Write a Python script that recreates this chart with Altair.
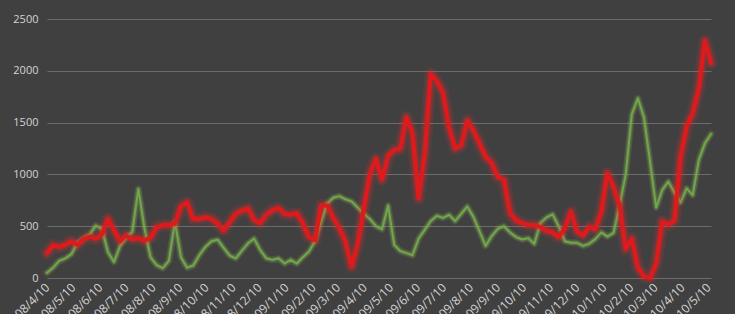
import altair as alt
import pandas as pd

start_date = "2008-04-10"

green = [50, 100, 165, 190, 230, 340, 380, 420, 505, 475,
         250, 155, 310, 390, 445, 860, 480, 200, 125, 95,
         165, 540, 200, 100, 120, 220, 300, 355, 370, 290,
         215, 190, 265, 335, 380, 270, 190, 175, 190, 140,
         175, 140, 200, 255, 355, 540, 720, 775, 790, 760,
         740, 680, 620, 570, 500, 470, 700, 320, 260, 240,
         220, 380, 465, 550, 600, 580, 610, 550, 620, 690,
         590, 450, 310, 405, 475, 500, 440, 395, 372, 385,
         330, 530, 585, 615, 500, 355, 340, 340, 310, 330,
         375, 440, 400, 435, 700, 1000, 1580, 1735, 1550, 1120,
         680, 850, 930, 825, 730, 865, 800, 1140, 1300, 1390]

red = [240, 315, 300, 320, 355, 320, 375, 400, 380, 420,
       570, 460, 355, 410, 375, 385, 360, 390, 490, 510,
       510, 525, 690, 730, 570, 570, 585, 570, 525, 460,
       540, 620, 650, 670, 560, 530, 610, 655, 675, 620,
       610, 625, 530, 395, 365, 700, 700, 580, 480, 350,
       110, 330, 670, 1000, 1150, 950, 1180, 1235, 1250, 1550,
       1400, 770, 1200, 1970, 1900, 1790, 1450, 1250, 1280, 1520,
       1420, 1300, 1170, 1110, 975, 950, 630, 555, 530, 510,
       510, 492, 455, 440, 395, 480, 640, 450, 410, 495,
       470, 640, 1010, 880, 700, 280, 380, 100, 15, 0,
       140, 545, 515, 555, 1170, 1460, 1590, 1830, 2290, 2075]

tick_labels = ["2008/4/10", "2008/5/10", "2008/6/10", "2008/7/10", "2008/8/10",
               "2008/9/10", "2008/10/10", "2008/11/10", "2008/12/10",
               "2009/1/10", "2009/2/10", "2009/3/10", "2009/4/10", "2009/5/10",
               "2009/6/10", "2009/7/10", "2009/8/10", "2009/9/10", "2009/10/10",
               "2009/11/10", "2009/12/10", "2010/1/10", "2010/2/10", "2010/3/10",
               "2010/4/10", "2010/5/10"]

y_ticks = [0, 500, 1000, 1500, 2000, 2500]

dates = pd.date_range(start_date, periods=len(green), freq="7D")
df = pd.DataFrame({
    "date": list(dates) * 2,
    "value": green + red,
    "series": ["green"] * len(green) + ["red"] * len(red),
})

tick_values = []
for lab in tick_labels:
    yy, mm, dd = [int(p) for p in lab.split("/")]
    tick_values.append(alt.DateTime(year=yy, month=mm, date=dd))

x_enc = alt.X(
    "date:T",
    scale=alt.Scale(domain=[dates[0].isoformat(), dates[-1].isoformat()]),
    axis=alt.Axis(
        values=tick_values,
        format="%Y/%-m/%-d",
        labelAngle=-45,
        labelAlign="right",
        labelBaseline="middle",
        labelColor="#d4d4d4",
        labelFontSize=12,
        labelFont="Open Sans",
        labelPadding=7,
        labelOverlap=False,
        labelFlush=False,
        ticks=False,
        domain=False,
        grid=False,
        title=None,
    ),
)
y_enc = alt.Y(
    "value:Q",
    scale=alt.Scale(domain=[0, 2500], nice=False),
    axis=alt.Axis(
        values=y_ticks,
        format="d",
        labelColor="#d4d4d4",
        labelFontSize=11,
        labelFont="Open Sans",
        labelPadding=9,
        ticks=False,
        domain=False,
        grid=True,
        gridColor="#6c6c6c",
        gridWidth=1.2,
        title=None,
    ),
)

base = alt.Chart(df).encode(x=x_enc, y=y_enc, detail="series:N")


def series_layers(name, color, glow, width, glows):
    sub = base.transform_filter(alt.datum.series == name)
    layers = []
    for w, op in glows:
        layers.append(sub.mark_line(color=glow, strokeWidth=w, opacity=op,
                                    strokeJoin="round", strokeCap="round"))
    layers.append(sub.mark_line(color=color, strokeWidth=width,
                                strokeJoin="round", strokeCap="round"))
    return layers


layers = []
layers += series_layers("green", "#6fa84a", "#a6d25c", 2.0, [(7, 0.12), (4.5, 0.2)])
layers += series_layers("red", "#de1a1c", "#ff2a2a", 4.2, [(13, 0.12), (8, 0.22)])

chart = alt.layer(*layers).properties(
    width=664,
    height=259,
    background="#404040",
    padding={"left": 47, "top": 19, "right": 24, "bottom": 40},
    autosize=alt.AutoSizeParams(type="none"),
).configure_view(stroke=None)

chart.save("out.html", embed_options={"renderer": "svg", "actions": False})
